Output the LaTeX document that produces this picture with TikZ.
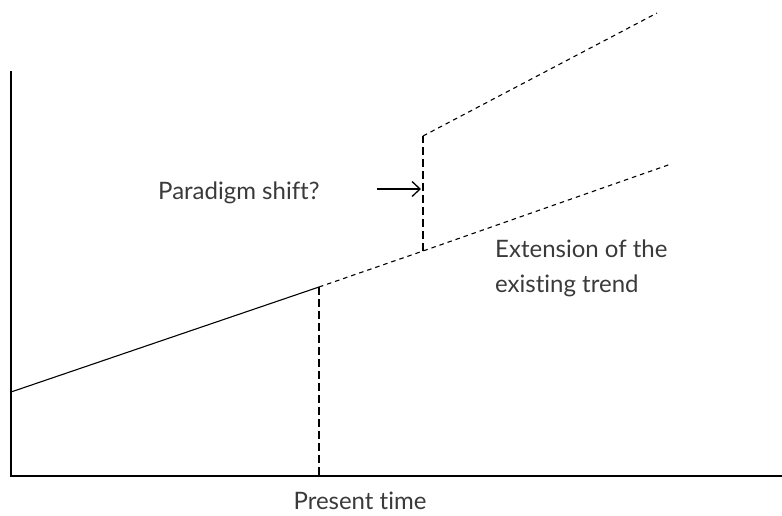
\documentclass[tikz,border=0pt]{standalone}
\usepackage{fontspec}
\setmainfont{Lato}[RawFeature={-liga}]
\usetikzlibrary{arrows.meta}
\definecolor{labelgray}{HTML}{3A3A3A}
\tikzset{
  axis/.style={line width=1.1pt, black},
  trend/.style={line width=1.1pt, black},
  forecast/.style={line width=1.1pt, black, dash pattern=on 4.5pt off 4pt},
  marker/.style={line width=1.1pt, black, dash pattern=on 8pt off 4pt},
  label/.style={font=\fontsize{24}{35}\selectfont, text=labelgray, inner sep=0pt}
}
\begin{document}
\begin{tikzpicture}[x=1pt,y=-1pt]
  \useasboundingbox (0,0) rectangle (782,515);
  % axes
  \coordinate (ytop) at (11,71);
  \coordinate (origin) at (11,476);
  \coordinate (xend) at (782,476);
  \draw[axis] (ytop) -- (origin) -- (xend);
  % past trend up to the present
  \coordinate (start) at (11,392);
  \coordinate (now) at (319,287);
  \coordinate (nowbase) at (319,476);
  \draw[trend] (start) -- (now);
  \draw[marker] (now) -- (nowbase);
  % extrapolated trend
  \coordinate (shiftlow) at (423,251);
  \coordinate (extend) at (671,164);
  \draw[forecast] (now) -- (shiftlow) -- (extend);
  % shifted trend
  \coordinate (shifthigh) at (423,136);
  \coordinate (shiftend) at (657,13);
  \draw[marker] (shiftlow) -- (shifthigh);
  \draw[forecast] (shifthigh) -- (shiftend);
  % labels
  \node[label, anchor=base west] (para) at (158,199) {Paradigm shift?};
  \coordinate (arrowtip) at (421,189);
  \coordinate (arrowtail) at (377,189);
  \draw[line width=1.3pt, -{Straight Barb[length=8pt,width=15pt]}] (arrowtail) -- (arrowtip);
  \node[label, anchor=base west] (ext1) at (495,257) {Extension of the};
  \node[label, anchor=base west] (ext2) at (495,292) {existing trend};
  \node[label, anchor=base] (present) at (360,509) {Present time};
\end{tikzpicture}
\end{document}
